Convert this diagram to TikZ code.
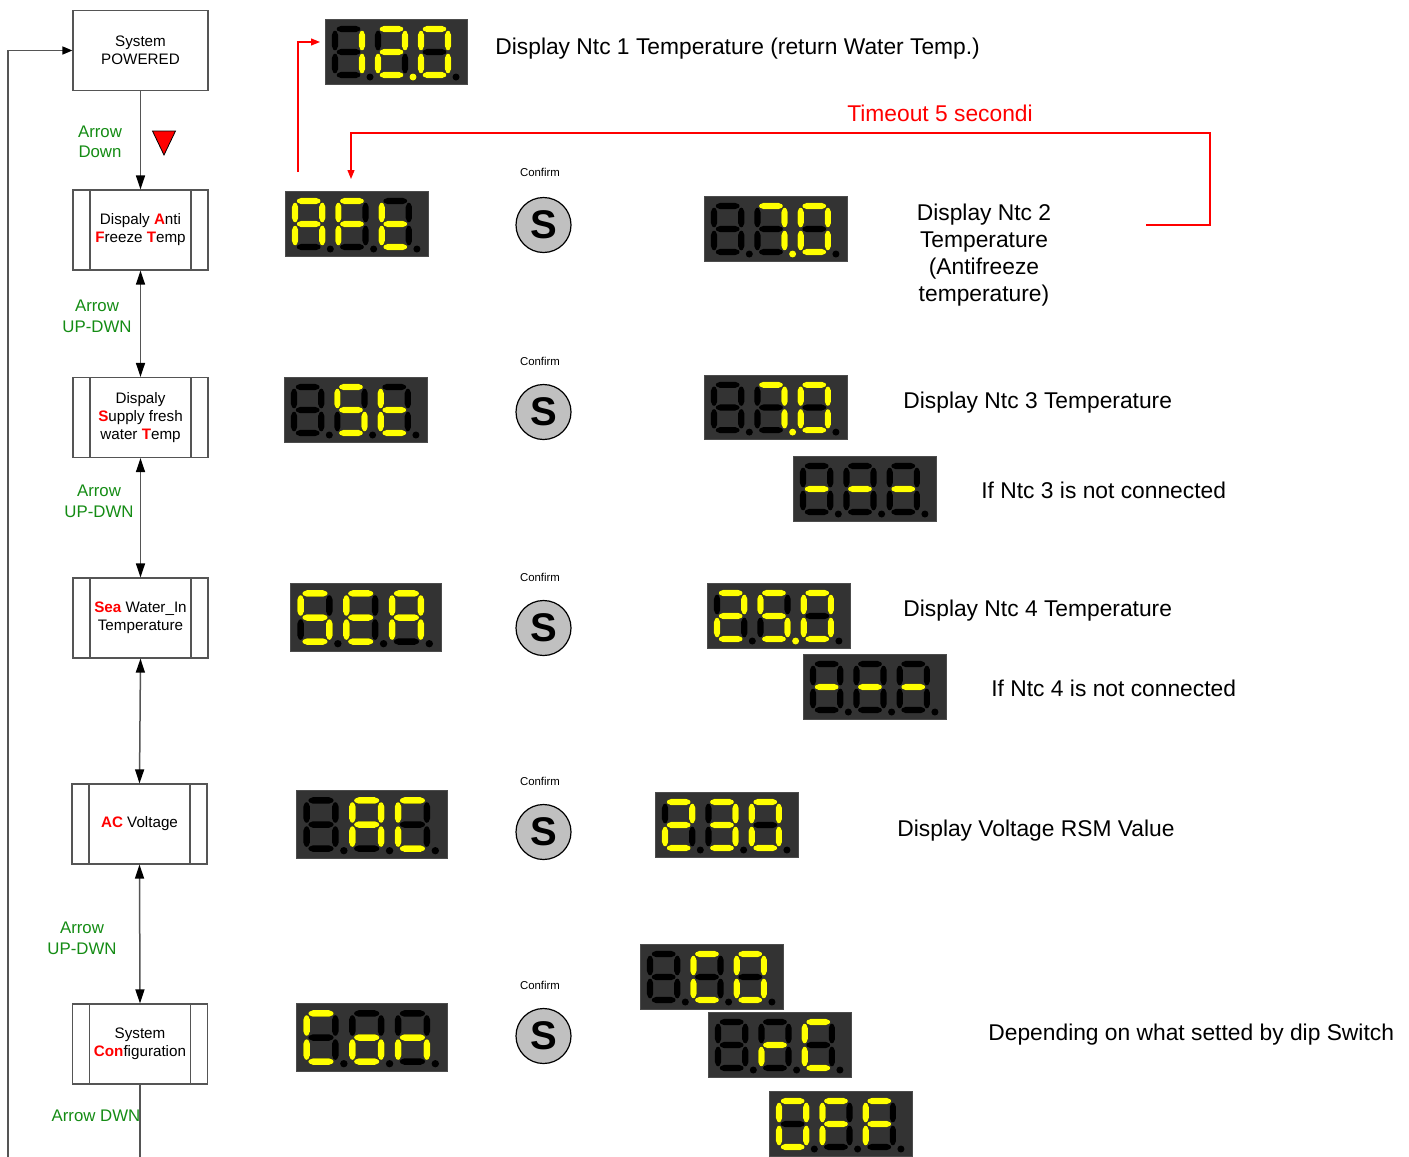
\documentclass[tikz,border=0pt]{standalone}
\usepackage{fontspec}
\setmainfont{Liberation Sans}
\usetikzlibrary{arrows.meta,calc}
\definecolor{dispbg}{HTML}{333333}
\definecolor{segy}{HTML}{FFFF00}
\definecolor{lblgreen}{RGB}{20,140,20}
\definecolor{lnGray}{HTML}{555555}
\definecolor{btngray}{HTML}{C0C0C0}
\newcommand\redb[1]{{\bfseries\color{red}#1}}
\def\segt{3.1}
% hexagonal segments: horizontal and vertical
\newcommand\hseg[4]{\fill[#4, rounded corners=1pt] (#1,#3) -- (#1+\segt,#3-\segt) -- (#2-\segt,#3-\segt) -- (#2,#3) -- (#2-\segt,#3+\segt) -- (#1+\segt,#3+\segt) -- cycle;}
\newcommand\vseg[4]{\fill[#4, rounded corners=1pt] (#1,#2) -- (#1+\segt,#2+\segt) -- (#1+\segt,#3-\segt) -- (#1,#3) -- (#1-\segt,#3-\segt) -- (#1-\segt,#2+\segt) -- cycle;}
% seven segment pieces (digit local coords, px, y down)
\def\svsa#1{\hseg{0.9}{26.1}{0}{#1}}
\def\svsb#1{\vseg{27}{0.9}{22.1}{#1}}
\def\svsc#1{\vseg{27}{23.9}{45.1}{#1}}
\def\svsd#1{\hseg{0.9}{26.1}{46}{#1}}
\def\svse#1{\vseg{0}{23.9}{45.1}{#1}}
\def\svsf#1{\vseg{0}{0.9}{22.1}{#1}}
\def\svsg#1{\hseg{0.9}{26.1}{23}{#1}}
\def\svsn#1{}
\newcommand\segdigit[2]{%
  \begin{scope}[shift={(#1,10)}]
    \foreach \s in {a,b,c,d,e,f,g} {\csname svs\s\endcsname{black}}
    \foreach \s in {#2} {\csname svs\s\endcsname{segy}}
    \fill[black] (35,48) circle (3.5);
  \end{scope}}
\newcommand\segdisp[9]{%
  \node[dispbox, anchor=north west, minimum width={#4*0.5pt}, minimum height={#5*0.5pt}] (#1) at (#2,#3) {};
  \begin{scope}[shift={(#2,#3)}, xscale={#4/142}, yscale={#5/65}]
    \segdigit{10}{#6}
    \segdigit{53}{#7}
    \segdigit{96}{#8}
    \foreach \k in {#9}{\ifnum\k>0 \fill[segy] ({10+43*(\k-1)+35},58) circle (3.5);\fi}
  \end{scope}}
\tikzset{
  flowbox/.style={draw=lnGray, line width=0.6pt, minimum width=67.5pt, minimum height=40pt,
    inner sep=0pt, align=center, font=\fontsize{7.6}{9}\selectfont},
  procbox/.style={flowbox, path picture={
    \draw[lnGray, line width=0.6pt]
      ([xshift=8.5pt]path picture bounding box.north west) -- ([xshift=8.5pt]path picture bounding box.south west)
      ([xshift=-8.5pt]path picture bounding box.north east) -- ([xshift=-8.5pt]path picture bounding box.south east);}},
  flowline/.style={draw=lnGray, line width=0.75pt},
  farrow/.style={flowline, -{Triangle[length=7pt,width=4.5pt,black]}},
  fdarrow/.style={flowline, {Triangle[length=7pt,width=4.5pt,black]}-{Triangle[length=7pt,width=4.5pt,black]}},
  looparrow/.style={flowline, -{Triangle[length=5pt,width=4pt,black]}},
  lbl/.style={text=lblgreen, font=\fontsize{8.4}{10.3}\selectfont, align=center, inner sep=0pt},
  bigtxt/.style={font=\fontsize{11.4}{13.5}\selectfont, align=center, inner sep=0pt},
  conf/.style={font=\fontsize{5.7}{7}\selectfont, inner sep=0pt},
  sbtn/.style={circle, draw=black, line width=0.6pt, fill=btngray, minimum size=27.5pt, inner sep=0pt,
    font=\fontsize{20}{20}\selectfont\bfseries},
  redln/.style={red, line width=0.6pt, -{Triangle[length=4.5pt,width=3.5pt]}},
  dispbox/.style={fill=dispbg, draw=black!70, line width=0.5pt, inner sep=0pt, outer sep=0pt},
}
\begin{document}
\begin{tikzpicture}[x=0.5pt,y=-0.5pt]
\useasboundingbox (0,0) rectangle (1409,1157);
\fill[white] (0,0) rectangle (1409,1157);

% left flow boxes
\node[flowbox] (pw) at (140.5,50.5) {System\\POWERED};
\node[procbox] (aft) at (140.5,230) {Dispaly \redb{A}nti\\\redb{F}reeze \redb{T}emp};
\node[procbox] (sup) at (140.5,417.5) {Dispaly\\\redb{S}upply fresh\\water \redb{T}emp};
\node[procbox] (sea) at (140.5,618) {\redb{Sea} Water\_In\\Temperature};
\node[procbox] (ac) at (139.5,824) {\redb{AC} Voltage};
\node[procbox] (con) at (140,1044) {System\\\redb{Con}figuration};

\draw[farrow] (pw.south) -- (aft.north);
\draw[fdarrow] (aft.south) -- (sup.north);
\draw[fdarrow] (sup.south) -- (sea.north);
\draw[fdarrow] (sea.south) -- (ac.north);
\draw[fdarrow] (ac.south) -- (con.north);
\coordinate (conend) at (140,1157);
\draw[flowline] (con.south) -- (conend);
\coordinate (loopstart) at (8,1157);
\draw[looparrow] (loopstart) |- (pw.west);

% green labels
\node[lbl] (l1) at (100,142) {Arrow\\Down};
\node[lbl] (l2) at (97,316) {Arrow\\UP-DWN};
\node[lbl] (l3) at (99,501) {Arrow\\UP-DWN};
\node[lbl] (l4) at (82,938) {Arrow\\UP-DWN};
\node[lbl] (l5) at (96,1116) {Arrow DWN};
\fill[red, draw=black, line width=0.4pt] (152.5,131) -- (175.5,131) -- (164,155) -- cycle;

% displays
\segdisp{d120}{325}{19}{142}{65}{b,c}{a,b,g,e,d}{a,b,c,d,e,f}{2}
\segdisp{dAFT}{285}{191}{143}{65}{a,b,c,e,f,g}{a,e,f,g}{d,e,f,g}{0}
\segdisp{dN2}{704}{196}{143}{65}{n}{a,b,c}{a,b,c,d,e,f}{2}
\segdisp{dSST}{284}{377}{143}{65}{n}{a,f,g,c,d}{d,e,f,g}{0}
\segdisp{dN3}{704}{375}{143}{64}{n}{a,b,c}{a,b,c,d,e,f}{2}
\segdisp{dNC3}{793}{456}{143}{65}{g}{g}{g}{0}
\segdisp{dSEA}{290}{583}{151}{68}{a,f,g,c,d}{a,d,e,f,g}{a,b,c,e,f,g}{0}
\segdisp{dN4}{707}{583}{143}{65}{a,b,g,e,d}{a,f,g,c,d}{a,b,c,d,e,f}{2}
\segdisp{dNC4}{803}{654}{143}{65}{g}{g}{g}{0}
\segdisp{dAC}{296}{790}{151}{68}{n}{a,b,c,e,f,g}{a,d,e,f}{0}
\segdisp{dV}{655}{792}{143}{65}{a,b,g,e,d}{a,b,g,c,d}{a,b,c,d,e,f}{0}
\segdisp{dCON}{296}{1003}{151}{68}{a,d,e,f}{c,d,e,g}{c,e,g}{0}
\segdisp{dCO}{640}{944}{143}{65}{n}{a,d,e,f}{a,b,c,d,e,f}{0}
\segdisp{dRC}{708}{1012}{143}{65}{n}{e,g}{a,d,e,f}{0}
\segdisp{dOFF}{769}{1091}{143}{65}{a,b,c,d,e,f}{a,e,f,g}{a,e,f,g}{0}

% confirm buttons
\node[conf] (c1) at (540,172) {Confirm};
\node[sbtn] (s1) at (543.5,225) {S};
\node[conf] (c2) at (540,361) {Confirm};
\node[sbtn] (s2) at (543.5,412) {S};
\node[conf] (c3) at (540,577) {Confirm};
\node[sbtn] (s3) at (543.5,628) {S};
\node[conf] (c4) at (540,781) {Confirm};
\node[sbtn] (s4) at (543.5,832) {S};
\node[conf] (c5) at (540,985) {Confirm};
\node[sbtn] (s5) at (543.5,1036) {S};

% texts
\node[bigtxt, anchor=west] (t1) at (495,49) {Display Ntc 1 Temperature (return Water Temp.)};
\node[bigtxt] (t2) at (984,255.5) {Display Ntc 2\\Temperature\\(Antifreeze\\temperature)};
\node[bigtxt, anchor=west] (t3) at (903,403) {Display Ntc 3 Temperature};
\node[bigtxt, anchor=west] (t3b) at (981,490) {If Ntc 3 is not connected};
\node[bigtxt, anchor=west] (t4) at (903,611) {Display Ntc 4 Temperature};
\node[bigtxt, anchor=west] (t4b) at (991,688) {If Ntc 4 is not connected};
\node[bigtxt, anchor=west] (t5) at (897,831) {Display Voltage RSM Value};
\node[bigtxt, anchor=west] (t6) at (988,1035) {Depending on what setted by dip Switch};
\node[bigtxt, text=red] (tto) at (940,113) {Timeout 5 secondi};

% red connectors
\coordinate (r1s) at (298,172);
\coordinate (r1e) at ($(d120.north west)+(-5,23)$);
\draw[redln] (r1s) |- (r1e);
\coordinate (tos) at (1146,225);
\coordinate (toe) at ($(dAFT.north west)+(66,-12)$);
\draw[redln] (tos) -- (1210,225) -- (1210,133) -| (toe);
\end{tikzpicture}
\end{document}
